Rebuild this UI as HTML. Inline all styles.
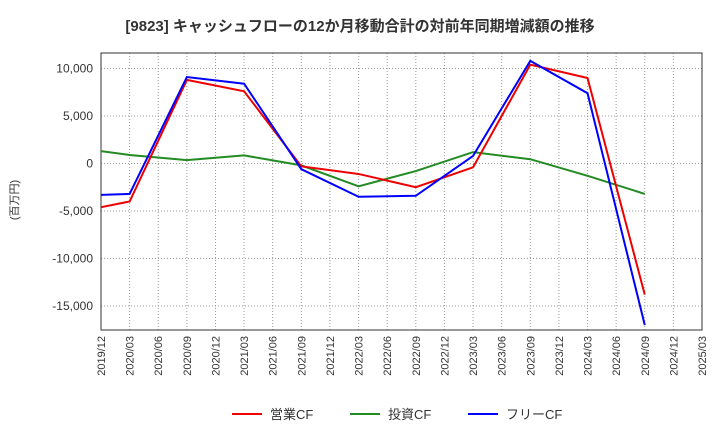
<!DOCTYPE html>
<html><head><meta charset="utf-8"><style>
body{margin:0;background:#fff;font-family:"Liberation Sans","Noto Sans CJK JP",sans-serif}
</style></head><body>
<svg id="c" width="720" height="440" xmlns="http://www.w3.org/2000/svg">
<text x="360" y="31" text-anchor="middle" font-size="15" font-weight="bold" fill="#333" font-family="Liberation Sans, Noto Sans CJK JP, sans-serif">[9823]  キャッシュフローの12か月移動合計の対前年同期増減額の推移</text>
<text transform="translate(18,200) rotate(-90)" text-anchor="middle" font-size="11" fill="#333" font-family="Liberation Sans, Noto Sans CJK JP, sans-serif">(百万円)</text>
<g id="grid"></g><g id="axes"></g><g id="series"></g>
<g font-size="13" fill="#333" font-family="Liberation Sans, Noto Sans CJK JP, sans-serif">
<line x1="232" y1="414" x2="262" y2="414" stroke="#e00" stroke-width="2"/><text x="270" y="419">営業CF</text>
<line x1="350" y1="414" x2="380" y2="414" stroke="#228b22" stroke-width="2"/><text x="388" y="419">投資CF</text>
<line x1="468" y1="414" x2="498" y2="414" stroke="#00f" stroke-width="2"/><text x="506" y="419">フリーCF</text>
</g>
</svg>
<script>
const categories=["2019/12","2020/03","2020/06","2020/09","2020/12","2021/03","2021/06","2021/09","2021/12","2022/03","2022/06","2022/09","2022/12","2023/03","2023/06","2023/09","2023/12","2024/03","2024/06","2024/09","2024/12","2025/03"];
const yTicks=[10000,5000,0,-5000,-10000,-15000];
const yTickLabels=["10,000","5,000","0","-5,000","-10,000","-15,000"];
const pointIdx=[0,1,3,5,7,9,11,13,15,17,19];
const operatingCF=[-4600,-4000,8800,7600,-300,-1100,-2500,-400,10400,9000,-13800];
const investingCF=[1300,900,350,850,-200,-2400,-800,1200,450,-1300,-3200];
const freeCF=[-3300,-3200,9100,8400,-600,-3500,-3400,800,10800,7400,-17000];
const L=101,R=702,T=53,B=330;
const x=i=>L+(R-L)*i/(categories.length-1);
const y=v=>163.5-v*47.5/5000;
const ns="http://www.w3.org/2000/svg";
function mk(p,t,a){const e=document.createElementNS(ns,t);for(const k in a)e.setAttribute(k,a[k]);p.appendChild(e);return e;}
const g=document.getElementById('grid'),ax=document.getElementById('axes'),s=document.getElementById('series');
categories.forEach((c,i)=>{
 const l=mk(g,'line',{x1:x(i),x2:x(i),y1:T,y2:B,stroke:'#999','stroke-dasharray':'1,2'});
 
 
 const t=mk(ax,'text',{transform:`translate(${x(i)+4},${B+6}) rotate(-90)`,'text-anchor':'end','font-size':'11',fill:'#333'});
 t.textContent=c;
 
 
});
yTicks.forEach((v,i)=>{
 const l=mk(g,'line',{x1:L,x2:R,y1:y(v),y2:y(v),stroke:'#999','stroke-dasharray':'1,2'});
 
 
 const t=mk(ax,'text',{x:L-8,y:y(v)+4,'text-anchor':'end','font-size':'12',fill:'#333'});
 t.textContent=yTickLabels[i];
 
 
});
const f=mk(ax,'rect',{x:L,y:T,width:R-L,height:B-T,fill:'none',stroke:'#333'});


[[investingCF,'#228b22','investing-cf-line'],[operatingCF,'#e00','operating-cf-line'],[freeCF,'#00f','free-cf-line']].forEach(([d,c,n])=>{
 const p=mk(s,'polyline',{points:d.map((v,k)=>x(pointIdx[k])+','+y(v)).join(' '),fill:'none',stroke:c,'stroke-width':2});
 
 
});
</script>
</body></html>
